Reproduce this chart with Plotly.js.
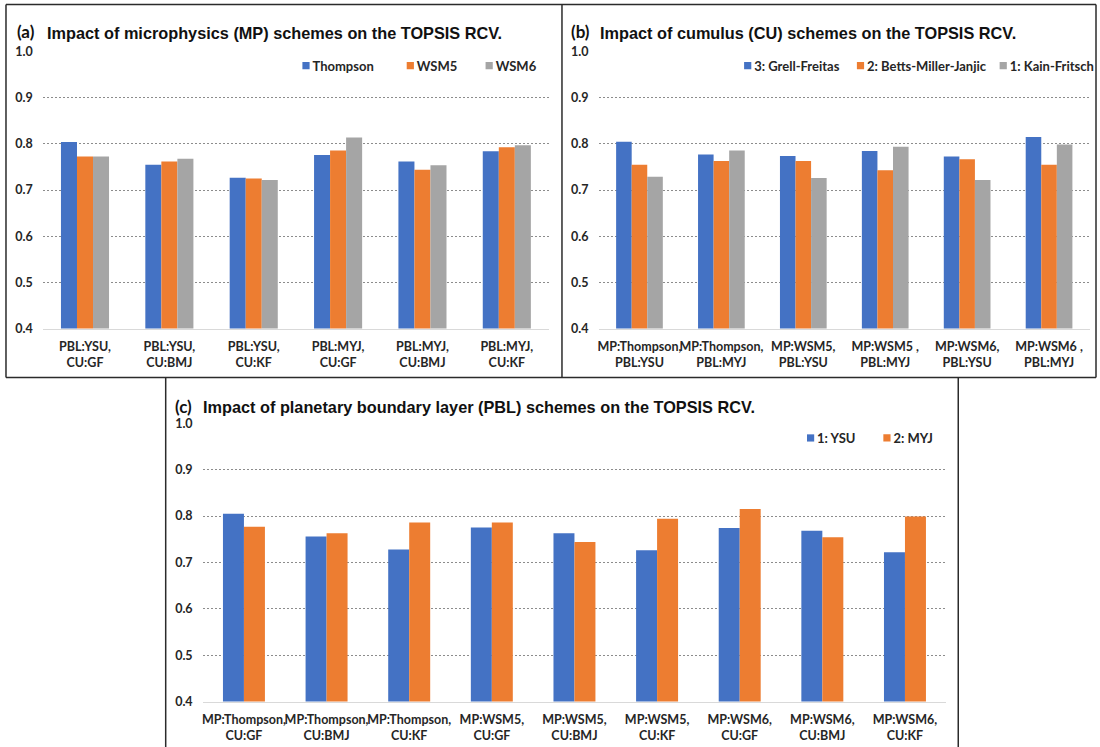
<!DOCTYPE html>
<html>
<head>
<meta charset="utf-8">
<script src="https://cdn.plot.ly/plotly-3.0.1.min.js"></script>
<style>
  html, body { margin: 0; padding: 0; background: #ffffff; }
  #chart { width: 1100px; height: 747px; }
</style>
</head>
<body>
<div id="chart"></div>
<script>
// ---- Panel (a): microphysics schemes ----
const mpCategories = [
  'PBL:YSU,<br>CU:GF', 'PBL:YSU,<br>CU:BMJ', 'PBL:YSU,<br>CU:KF',
  'PBL:MYJ,<br>CU:GF', 'PBL:MYJ,<br>CU:BMJ', 'PBL:MYJ,<br>CU:KF'
];
const mpThompson = [0.804, 0.755, 0.727, 0.776, 0.762, 0.784];
const mpWSM5     = [0.773, 0.762, 0.725, 0.786, 0.744, 0.793];
const mpWSM6     = [0.773, 0.768, 0.722, 0.814, 0.754, 0.797];

// ---- Panel (b): cumulus schemes ----
const cuCategories = [
  'MP:Thompson,<br>PBL:YSU', 'MP:Thompson,<br>PBL:MYJ', 'MP:WSM5,<br>PBL:YSU',
  'MP:WSM5 ,<br>PBL:MYJ', 'MP:WSM6,<br>PBL:YSU', 'MP:WSM6 ,<br>PBL:MYJ'
];
const cuGrellFreitas      = [0.805, 0.777, 0.774, 0.785, 0.773, 0.815];
const cuBettsMillerJanjic = [0.755, 0.763, 0.763, 0.743, 0.767, 0.755];
const cuKainFritsch       = [0.729, 0.786, 0.726, 0.794, 0.722, 0.799];

// ---- Panel (c): planetary boundary layer schemes ----
const pblCategories = [
  'MP:Thompson,<br>CU:GF', 'MP:Thompson,<br>CU:BMJ', 'MP:Thompson,<br>CU:KF',
  'MP:WSM5,<br>CU:GF', 'MP:WSM5,<br>CU:BMJ', 'MP:WSM5,<br>CU:KF',
  'MP:WSM6,<br>CU:GF', 'MP:WSM6,<br>CU:BMJ', 'MP:WSM6,<br>CU:KF'
];
const pblYSU = [0.805, 0.756, 0.728, 0.775, 0.763, 0.726, 0.774, 0.768, 0.722];
const pblMYJ = [0.777, 0.763, 0.786, 0.786, 0.744, 0.794, 0.815, 0.754, 0.799];

const yTicks = [0.4, 0.5, 0.6, 0.7, 0.8, 0.9, 1.0];

// ---- styling ----
const W = 1100, H = 747;
const px = v => v / W;          // pixel -> paper x
const py = v => 1 - v / H;      // pixel -> paper y
const BLUE = '#4472C4', ORANGE = '#ED7D31', GRAY = '#A5A5A5';
const labelFont = 'Lato, "Open Sans", sans-serif';
const titleFont = '"Liberation Sans", Arial, sans-serif';

function barTrace(cats, vals, name, color, xa, ya, idx, n, w, legendId) {
  return {
    type: 'bar', x: cats, y: vals, name: name,
    xaxis: xa, yaxis: ya,
    marker: { color: color, line: { width: 0 } },
    width: w, offset: (idx - n / 2) * w,
    legend: legendId, showlegend: true, hoverinfo: 'x+y+name'
  };
}

const wA = 0.19, wB = 0.19, wC = 0.254;
const data = [
  barTrace(mpCategories, mpThompson, 'Thompson', BLUE,   'x',  'y',  0, 3, wA, 'legend'),
  barTrace(mpCategories, mpWSM5,     'WSM5',     ORANGE, 'x',  'y',  1, 3, wA, 'legend2'),
  barTrace(mpCategories, mpWSM6,     'WSM6',     GRAY,   'x',  'y',  2, 3, wA, 'legend3'),
  barTrace(cuCategories, cuGrellFreitas,      '3: Grell-Freitas',       BLUE,   'x2', 'y2', 0, 3, wB, 'legend4'),
  barTrace(cuCategories, cuBettsMillerJanjic, '2: Betts-Miller-Janjic', ORANGE, 'x2', 'y2', 1, 3, wB, 'legend5'),
  barTrace(cuCategories, cuKainFritsch,       '1: Kain-Fritsch',        GRAY,   'x2', 'y2', 2, 3, wB, 'legend6'),
  barTrace(pblCategories, pblYSU, '1: YSU', BLUE,   'x3', 'y3', 0, 2, wC, 'legend7'),
  barTrace(pblCategories, pblMYJ, '2: MYJ', ORANGE, 'x3', 'y3', 1, 2, wC, 'legend8')
];

function xAxis(domain, anchor) {
  return {
    domain: domain, anchor: anchor, type: 'category',
    showgrid: false, zeroline: false,
    showline: true, linecolor: '#d9d9d9', linewidth: 1,
    ticks: '', ticklabelstandoff: 6, tickangle: 0,
    tickfont: { family: labelFont, size: 12.5, color: '#262626', weight: 'bold' },
    fixedrange: true
  };
}
function yAxis(domain, anchor) {
  return {
    domain: domain, anchor: anchor,
    range: [0.4, 1.0], tickmode: 'array', tickvals: yTicks,
    ticktext: yTicks.map(v => v.toFixed(1)),
    showgrid: true, gridcolor: '#8c8c8c', gridwidth: 1, griddash: '2px,2px',
    zeroline: false, showline: false, ticks: '', ticklabelstandoff: 9,
    tickfont: { family: labelFont, size: 12.5, color: '#262626', weight: 'bold' },
    fixedrange: true
  };
}

// legend entries: one per series so each sits where it belongs in its panel
const legendSpots = [
  [306.5, 65.7], [411, 65.7], [490, 65.7],
  [749, 65.7], [862, 65.7], [1005, 65.7],
  [812, 438], [888.5, 438]
];
const SYMBOL_CENTER = 33.5;

const layout = {
  width: W, height: H,
  margin: { l: 0, r: 0, t: 0, b: 0 },
  paper_bgcolor: '#ffffff', plot_bgcolor: 'rgba(0,0,0,0)',
  barmode: 'overlay', showlegend: true,
  font: { family: labelFont, color: '#262626' },
  xaxis:  xAxis([px(42.9), px(550)], 'y'),
  yaxis:  yAxis([py(328.5), py(51.7)], 'x'),
  xaxis2: xAxis([px(599.6), px(1092)], 'y2'),
  yaxis2: yAxis([py(328.5), py(51.7)], 'x2'),
  xaxis3: xAxis([px(203), px(948)], 'y3'),
  yaxis3: yAxis([py(701.5), py(423.3)], 'x3'),
  annotations: [
    ['(a)', 15, 32, 17, labelFont], ['Impact of microphysics (MP) schemes on the TOPSIS RCV.', 45.5, 33, 16.3, titleFont],
    ['(b)', 570, 32, 17, labelFont], ['Impact of cumulus (CU) schemes on the TOPSIS RCV.', 599.5, 33, 16.3, titleFont],
    ['(c)', 173, 406, 17, labelFont], ['Impact of planetary boundary layer (PBL) schemes on the TOPSIS RCV.', 201.5, 407, 16.3, titleFont]
  ].map(([t, x, y, s, f]) => ({
    text: t, xref: 'paper', yref: 'paper', x: px(x), y: py(y),
    xanchor: 'left', yanchor: 'middle', showarrow: false,
    font: { family: f, size: s, color: '#111111', weight: 'bold' }
  })),
  shapes: [
    [6, 4.5, 1098, 4.5], [6, 4.5, 6, 377.5], [563, 4.5, 563, 377.5],
    [1098, 4.5, 1098, 377.5], [6, 377.5, 1098, 377.5],
    [166, 377.5, 166, 747], [960, 377.5, 960, 747]
  ].map(([x0, y0, x1, y1]) => ({
    type: 'line', xref: 'paper', yref: 'paper',
    x0: px(x0), y0: py(y0), x1: px(x1), y1: py(y1),
    line: { color: '#2b2b2b', width: 1.5 }
  }))
};

legendSpots.forEach(([cx, cy], i) => {
  const key = i === 0 ? 'legend' : 'legend' + (i + 1);
  layout[key] = {
    x: px(cx - SYMBOL_CENTER), y: py(cy), xanchor: 'left', yanchor: 'middle',
    orientation: 'h', bgcolor: 'rgba(0,0,0,0)', borderwidth: 0,
    font: { family: labelFont, size: 13, color: '#262626', weight: 'bold' }
  };
});

// smaller legend squares placed snug against their labels
function tidyLegendSymbols() {
  document.querySelectorAll('#chart .legendpoints path').forEach(p => {
    p.setAttribute('transform', 'translate(' + SYMBOL_CENTER + ',0) scale(0.6)');
  });
}

Plotly.newPlot('chart', data, layout, { staticPlot: true, displayModeBar: false })
  .then(gd => {
    tidyLegendSymbols();
    gd.on('plotly_afterplot', tidyLegendSymbols);
    setTimeout(tidyLegendSymbols, 50);
  });
</script>
</body>
</html>
